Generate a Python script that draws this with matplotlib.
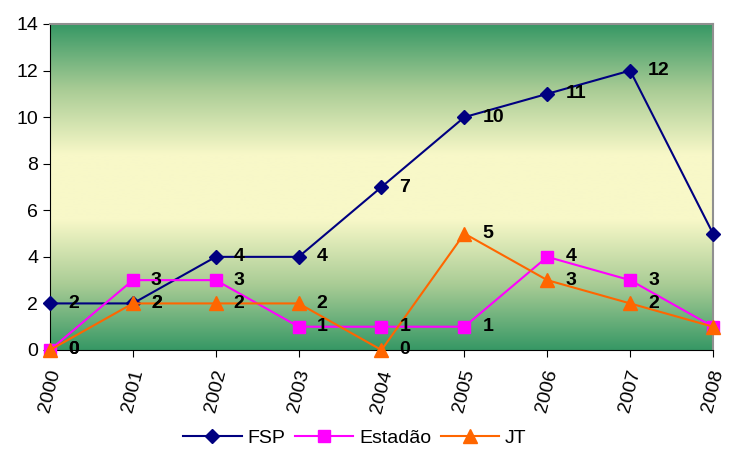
import numpy as np
import matplotlib.pyplot as plt
from matplotlib.colors import LinearSegmentedColormap

years = ["2000", "2001", "2002", "2003", "2004", "2005", "2006", "2007", "2008"]
fsp = [2, 2, 4, 4, 7, 10, 11, 12, 5]
estadao = [0, 3, 3, 1, 1, 1, 4, 3, 1]
jt = [0, 2, 2, 2, 0, 5, 3, 2, 1]

plt.rcParams['font.family'] = ['Liberation Sans', 'DejaVu Sans']

fig = plt.figure(figsize=(7.32, 4.5), dpi=100)
ax = fig.add_axes([50/732, 1-350/450, 663/732, 326/450])

x = np.arange(len(years))
# gradient background: green - pale yellow - green
cmap = LinearSegmentedColormap.from_list("bg", ["#379865", "#a9cc95", "#f8f8c8", "#f8f8c8", "#a9cc95", "#379865"])
grad = np.linspace(0, 1, 256).reshape(-1, 1)
ax.imshow(grad, aspect='auto', cmap=cmap, extent=[0, 8, 0, 14], origin='upper', zorder=0)

ax.plot(x, fsp, '-D', color='#000080', markersize=7, lw=1.5, label='FSP', zorder=3, clip_on=False)
ax.plot(x, estadao, '-s', color='#ff00ff', markersize=8, lw=1.5, label='Estadão', zorder=3, clip_on=False)
ax.plot(x, jt, '-^', color='#ff6600', markersize=10, lw=1.5, label='JT', zorder=4, clip_on=False)

for series in (fsp, estadao, jt):
    for i, v in enumerate(series[:-1]):
        ax.annotate(str(v), (x[i], v), xytext=(13, 0), textcoords='offset points',
                    fontsize=14, fontweight='bold', va='center', ha='left', zorder=5)

ax.set_xlim(0, 8)
ax.set_ylim(0, 14)
ax.set_yticks(range(0, 15, 2))
ax.set_xticks(x)
ax.set_xticklabels(years, rotation=76, fontsize=14, ha='center', va='top')
ax.tick_params(axis='y', labelsize=14, direction='out', length=5)
ax.tick_params(axis='x', direction='out', length=5, pad=8)
for s in ('top', 'right'):
    ax.spines[s].set_color('#909090')
    ax.spines[s].set_linewidth(1.5)
for s in ('left', 'bottom'):
    ax.spines[s].set_color('black')

ax.legend(loc='center', bbox_to_anchor=(0.46, -0.27), ncol=3, frameon=False,
          fontsize=14, handlelength=3.0, columnspacing=0.5, handletextpad=0.3,
          borderaxespad=0.0, borderpad=0.1)

plt.savefig("out.png", dpi=100)
